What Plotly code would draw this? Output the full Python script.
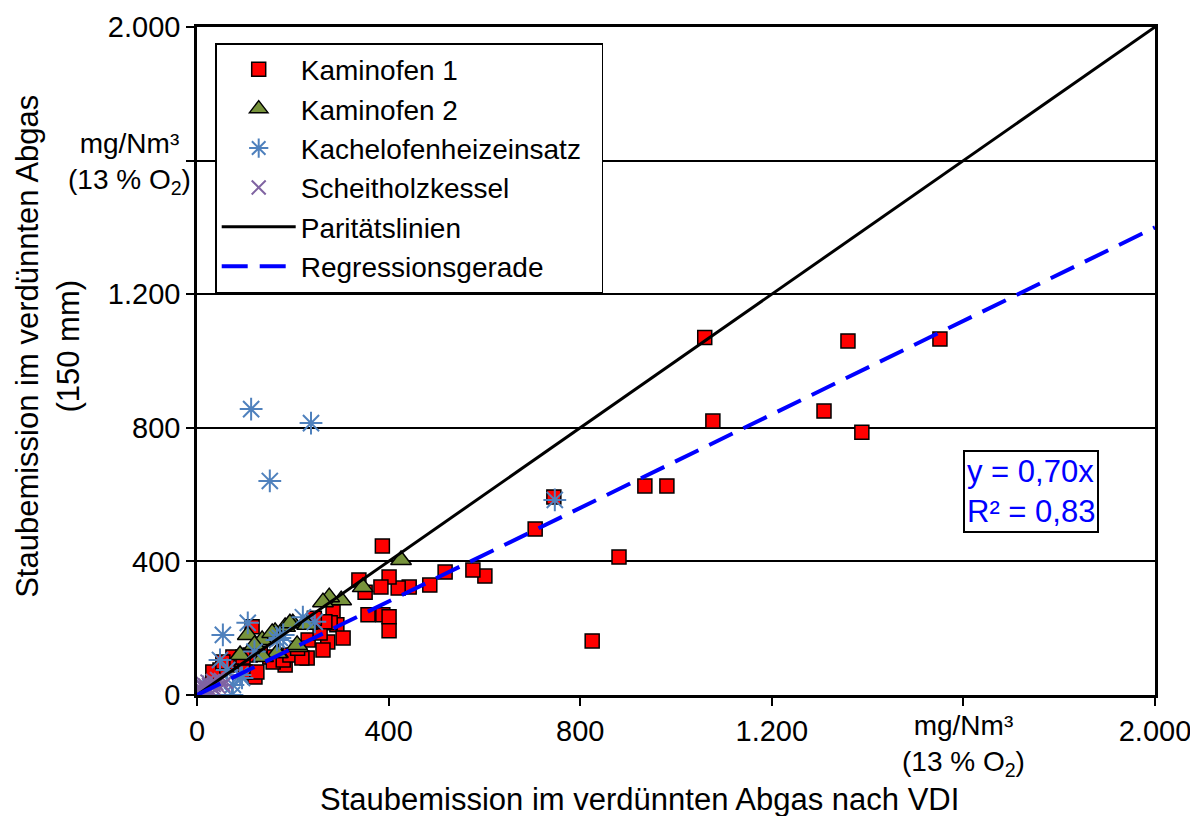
import plotly.graph_objects as go

# ---------------- data ----------------
k1_x = [1060, 1359, 1551, 1077, 1309, 1388, 935, 981, 881, 825, 745, 706, 601, 576, 518, 486,
        443, 420, 387, 401, 384, 338, 351, 357, 388, 401, 401, 284, 292, 305, 273, 263, 232, 230,
        184, 278, 152, 132, 111, 94, 75, 63, 48, 33, 121, 100, 54, 96, 115, 125, 159, 180, 194,
        219, 257, 267, 245, 210]
k1_y = [1070, 1060, 1066, 820, 850, 787, 626, 626, 413, 162, 593, 497, 356, 374, 368, 329,
        323, 320, 446, 353, 323, 344, 308, 240, 240, 234, 192, 249, 210, 171, 159, 135, 165, 111,
        90, 216, 114, 125, 120, 105, 114, 90, 75, 69, 54, 69, 99, 114, 204, 69, 99, 105, 120,
        111, 186, 219, 230, 140]

k2_x = [426, 346, 301, 276, 200, 184, 163, 169, 211, 106, 136, 157, 167, 194, 209, 263, 138,
        120, 90, 230]
k2_y = [404, 323, 284, 293, 215, 204, 189, 126, 144, 180, 165, 186, 126, 215, 150, 278, 114,
        150, 120, 210]

kh_x = [113, 238, 152, 747, 106, 54, 48, 221, 246, 173, 75, 73, 27, 94, 63, 13, 180, 167, 120, 90]
kh_y = [856, 814, 641, 584, 216, 180, 105, 233, 219, 171, 30, 0, 0, 51, 75, 24, 180, 165, 130, 60]

sh_x = [5, 10, 15, 20, 25, 30, 8, 12, 18, 35, 40, 22, 45, 28, 50, 15, 5, 33, 38, 55, 3, 10, 25, 42, 60]
sh_y = [5, 15, 10, 20, 18, 25, 30, 35, 28, 30, 35, 40, 25, 12, 45, 22, 20, 42, 15, 30, 3, 5, 30, 48, 40]

line_x = [0, 2000]
slope = 0.70
parity_y = [v for v in line_x]
reg_y = [slope * v for v in line_x]

tick_vals = [0, 400, 800, 1200, 1600, 2000]
tick_text = ["0", "400", "800", "1.200", " ", "2.000"]

FONT = "Liberation Sans, Arial, sans-serif"

fig = go.Figure()
fig.add_trace(go.Scatter(x=k1_x, y=k1_y, mode="markers", name="Kaminofen 1", legendgroup="a",
                         marker=dict(symbol="square", size=14, color="#FF0000",
                                     line=dict(color="black", width=1.5))))
fig.add_trace(go.Scatter(x=k2_x, y=k2_y, mode="markers", name="Kaminofen 2", legendgroup="b",
                         marker=dict(symbol="triangle-up", size=18, color="#77933C",
                                     line=dict(color="black", width=1.5))))
fig.add_trace(go.Scatter(x=kh_x, y=kh_y, mode="markers", name="Kachelofenheizeinsatz\u00a0\u00a0",
                         legendgroup="c",
                         marker=dict(symbol="asterisk-open", size=19, color="#4F81BD",
                                     line=dict(color="#4F81BD", width=2))))
fig.add_trace(go.Scatter(x=sh_x, y=sh_y, mode="markers", name="Scheitholzkessel", legendgroup="d",
                         marker=dict(symbol="x-thin-open", size=14, color="#8064A2",
                                     line=dict(color="#8064A2", width=2))))
fig.add_trace(go.Scatter(x=line_x, y=parity_y, mode="lines", name="Paritätslinien", legendgroup="e",
                         line=dict(color="black", width=3)))
fig.add_trace(go.Scatter(x=line_x, y=reg_y, mode="lines", name="Regressionsgerade", legendgroup="f",
                         line=dict(color="#0000FF", width=4, dash="26px,12px")))

axis_common = dict(range=[0, 2000], tickvals=tick_vals, ticktext=tick_text,
                   showline=True, linecolor="black", linewidth=2.5, mirror=True,
                   ticks="outside", ticklen=8, tickwidth=2, tickcolor="black",
                   tickfont=dict(family=FONT, size=29, color="black"), zeroline=False,
                   automargin=False, ticklabeloverflow="allow")

fig.update_xaxes(**axis_common, showgrid=False)
fig.update_yaxes(**axis_common, showgrid=True, gridcolor="black", gridwidth=2)

fig.update_layout(
    width=1190, height=808,
    margin=dict(l=189, r=43, t=19, b=121),
    plot_bgcolor="white", paper_bgcolor="white",
    font=dict(family=FONT, size=28, color="black"),
    legend=dict(x=0.019, y=0.976, xanchor="left", yanchor="top",
                bgcolor="white", bordercolor="black", borderwidth=1.5,
                font=dict(family=FONT, size=28, color="black"),
                tracegroupgap=0, itemwidth=74),
    annotations=[
        dict(text="Staubemission im verdünnten Abgas<br>(150 mm)", textangle=-90,
             xref="paper", yref="paper", x=-0.156, y=0.522, xanchor="center", yanchor="middle",
             showarrow=False, font=dict(family=FONT, size=31, color="black")),
        dict(text="Staubemission im verdünnten Abgas nach VDI",
             xref="paper", yref="paper", x=0.462, y=-0.157, xanchor="center", yanchor="middle",
             showarrow=False, font=dict(family=FONT, size=31, color="black")),
        dict(text="mg/Nm³<br>(13 % O<sub>2</sub>)",
             xref="paper", yref="paper", x=-0.07, y=0.796, xanchor="center", yanchor="middle",
             showarrow=False, font=dict(family=FONT, size=28, color="black")),
        dict(text="mg/Nm³<br>(13 % O<sub>2</sub>)",
             xref="paper", yref="paper", x=0.80, y=-0.075, xanchor="center", yanchor="middle",
             showarrow=False, font=dict(family=FONT, size=28, color="black")),
        dict(text="y = 0,70x<br>R² = 0,83",
             xref="paper", yref="paper", x=0.871, y=0.305, xanchor="center", yanchor="middle",
             showarrow=False, align="left", bgcolor="white", bordercolor="black", borderwidth=2,
             borderpad=2, font=dict(family=FONT, size=31, color="#0000FF")),
    ],
)

fig.write_html("out.html")
